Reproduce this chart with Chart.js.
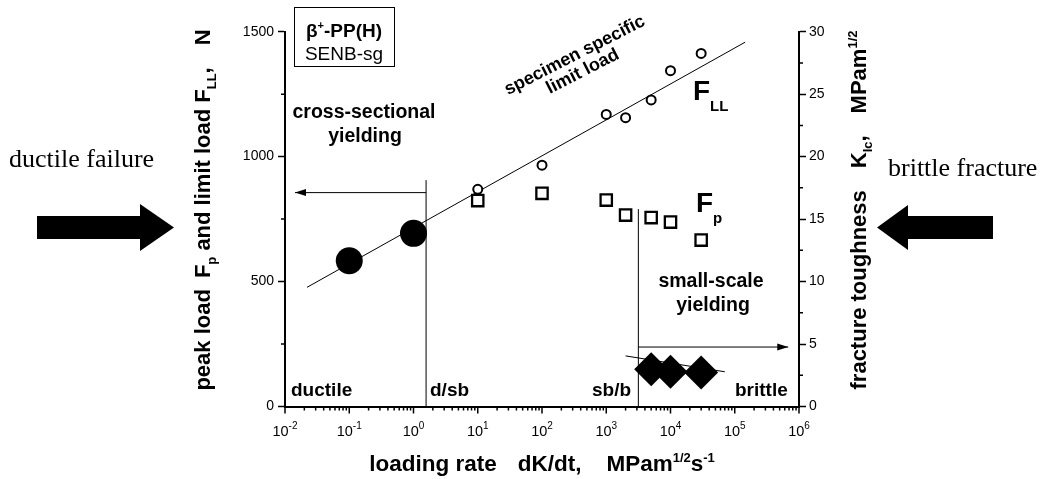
<!DOCTYPE html>
<html><head><meta charset="utf-8">
<script src="https://cdn.jsdelivr.net/npm/chart.js@4"></script>
<style>html,body{margin:0;padding:0;background:#fff;overflow:hidden}#wrap{width:1043px;height:479px}</style>
</head><body><div id="wrap"><canvas id="c" width="1043" height="479"></canvas></div>
<script>
// ---- data ----
const rates = [10, 100, 1000, 2000, 5000, 10000, 30000];          // loading rate dK/dt
const limitLoad = [869, 966, 1169, 1156, 1227, 1344, 1413];       // F_LL, N (open circles)
const peakLoad = [824, 853, 826, 766, 756, 738, 666];             // F_p, N (open squares)
const ductileRates = [0.1, 1];
const ductileLoad = [583, 693];                                   // filled circles, N
const brittleRates = [5000, 10000, 30000];
const brittleK = [2.98, 2.79, 2.72];                              // filled diamonds, MPa m^1/2
const limitFitRates = [0.022, 145000];
const limitFitLoad = [477, 1458];
const kFitRates = [2000, 70000];
const kFitValues = [4.05, 2.78];
const transitionRates = [1.57, 3160];                             // d/sb and sb/b
const transitionTop = [906, 790];
const ductileArrowRates = [1.57, 0.0143];
const ductileArrowLoad = 856;
const brittleArrowRates = [3160, 680000];
const brittleArrowLoad = 238;
const loadTicks = [0, 500, 1000, 1500];
const toughTicks = [0, 5, 10, 15, 20, 25, 30];
const rateExponents = [-2, -1, 0, 1, 2, 3, 4, 5, 6];

const SANS = 'Arial, "Liberation Sans", Helvetica, sans-serif';
const SERIF = '"Times New Roman", "Liberation Serif", serif';
function fnt(size, bold, fam) { return (bold ? 'bold ' : '') + size + 'px ' + (fam || SANS); }

// rich text: segs = [{t, s, b, dy, f, g}]
function rich(ctx, segs, x, y, angle, align) {
  ctx.save();
  ctx.translate(x, y);
  ctx.rotate(angle || 0);
  ctx.textAlign = 'left';
  ctx.textBaseline = 'alphabetic';
  ctx.fillStyle = '#000';
  let w = 0;
  const ws = segs.map(sg => { ctx.font = fnt(sg.s, sg.b, sg.f); const m = ctx.measureText(sg.t).width; w += m + (sg.g || 0); return m; });
  let cx = align === 'left' ? 0 : (align === 'right' ? -w : -w / 2);
  segs.forEach((sg, i) => { ctx.font = fnt(sg.s, sg.b, sg.f); ctx.fillText(sg.t, cx, sg.dy || 0); cx += ws[i] + (sg.g || 0); });
  ctx.restore();
}

const pts = (xs, ys) => xs.map((x, i) => ({ x: x, y: ys[i] }));
const lineDs = (data, axis) => ({ data: data, yAxisID: axis || 'y', showLine: true, borderColor: '#000', borderWidth: 1, pointRadius: 0, pointHoverRadius: 0, fill: false, order: 1 });

const decor = {
  id: 'decor',
  afterDraw(chart) {
    const ctx = chart.ctx;
    const xs = chart.scales.x, ys = chart.scales.y, y2 = chart.scales.y2;
    const L = chart.chartArea.left, R = chart.chartArea.right, B = chart.chartArea.bottom;
    ctx.save();
    ctx.strokeStyle = '#000';
    ctx.fillStyle = '#000';
    ctx.lineWidth = 1.5;
    // minor ticks on y axes
    ctx.beginPath();
    for (let i = 0; i < loadTicks.length - 1; i++) {
      const py = ys.getPixelForValue((loadTicks[i] + loadTicks[i + 1]) / 2);
      ctx.moveTo(L, py); ctx.lineTo(L - 4, py);
    }
    for (let i = 0; i < toughTicks.length - 1; i++) {
      const py = y2.getPixelForValue((toughTicks[i] + toughTicks[i + 1]) / 2);
      ctx.moveTo(R, py); ctx.lineTo(R + 4, py);
    }
    // x ticks
    rateExponents.forEach((e, k) => {
      const px = xs.getPixelForValue(Math.pow(10, e));
      ctx.moveTo(px, B); ctx.lineTo(px, B + 7);
      if (k < rateExponents.length - 1) {
        for (let m = 2; m <= 9; m++) {
          const qx = xs.getPixelForValue(m * Math.pow(10, e));
          ctx.moveTo(qx, B); ctx.lineTo(qx, B + 4);
        }
      }
    });
    ctx.stroke();
    // x tick labels 10^n
    rateExponents.forEach(e => {
      const px = xs.getPixelForValue(Math.pow(10, e));
      rich(ctx, [{ t: '10', s: 14.5 }, { t: String(e), s: 10, dy: -7 }], px, B + 29, 0, 'center');
    });
    // arrowheads
    const ay = ys.getPixelForValue(ductileArrowLoad);
    const ax = xs.getPixelForValue(ductileArrowRates[1]);
    ctx.beginPath(); ctx.moveTo(ax, ay); ctx.lineTo(ax + 11, ay - 3.5); ctx.lineTo(ax + 11, ay + 3.5); ctx.closePath(); ctx.fill();
    const by = ys.getPixelForValue(brittleArrowLoad);
    const bx = xs.getPixelForValue(brittleArrowRates[1]);
    ctx.beginPath(); ctx.moveTo(bx, by); ctx.lineTo(bx - 11, by - 3.5); ctx.lineTo(bx - 11, by + 3.5); ctx.closePath(); ctx.fill();

    // axis titles
    rich(ctx, [{ t: 'loading rate', s: 22.5, b: 1, g: 21 }, { t: 'dK/dt,', s: 22.5, b: 1, g: 25 }, { t: 'MPam', s: 22.5, b: 1 },
      { t: '1/2', s: 13, b: 1, dy: -9 }, { t: 's', s: 22.5, b: 1 }, { t: '-1', s: 13, b: 1, dy: -9 }], 542, 471, 0, 'center');
    rich(ctx, [{ t: 'peak load', s: 22, b: 1, g: 11 }, { t: 'F', s: 22, b: 1 }, { t: 'p', s: 13, b: 1, dy: 6 },
      { t: ' and limit load ', s: 22, b: 1 }, { t: 'F', s: 22, b: 1 }, { t: 'LL', s: 13, b: 1, dy: 6 }, { t: ',', s: 22, b: 1, g: 22 },
      { t: 'N', s: 22, b: 1 }], 210, 210, -Math.PI / 2, 'center');
    rich(ctx, [{ t: 'fracture toughness', s: 22, b: 1, g: 22 }, { t: 'K', s: 22, b: 1 }, { t: 'Ic', s: 13, b: 1, dy: 6 },
      { t: ',', s: 22, b: 1, g: 22 }, { t: 'MPam', s: 22, b: 1 }, { t: '1/2', s: 13, b: 1, dy: -9 }], 866, 210, -Math.PI / 2, 'center');

    // material box
    ctx.lineWidth = 1;
    ctx.strokeRect(294.5, 7.5, 100, 59);
    rich(ctx, [{ t: '\u03B2', s: 19, b: 1 }, { t: '+', s: 11, b: 1, dy: -8 }, { t: '-PP(H)', s: 19, b: 1 }], 344, 37, 0, 'center');
    rich(ctx, [{ t: 'SENB-sg', s: 19 }], 344, 60, 0, 'center');

    // region labels
    rich(ctx, [{ t: 'cross-sectional', s: 19.5, b: 1 }], 364, 118, 0, 'center');
    rich(ctx, [{ t: 'yielding', s: 19.5, b: 1 }], 365, 142, 0, 'center');
    rich(ctx, [{ t: 'small-scale', s: 19.5, b: 1 }], 711, 287, 0, 'center');
    rich(ctx, [{ t: 'yielding', s: 19.5, b: 1 }], 713, 311, 0, 'center');
    rich(ctx, [{ t: 'ductile', s: 19, b: 1 }], 291, 396, 0, 'left');
    rich(ctx, [{ t: 'd/sb', s: 19, b: 1 }], 430, 396, 0, 'left');
    rich(ctx, [{ t: 'sb/b', s: 19, b: 1 }], 592, 396, 0, 'left');
    rich(ctx, [{ t: 'brittle', s: 19, b: 1 }], 735, 396, 0, 'left');
    const ang = -27 * Math.PI / 180;
    rich(ctx, [{ t: 'specimen specific', s: 18, b: 1 }], 577, 60, ang, 'center');
    rich(ctx, [{ t: 'limit load', s: 18, b: 1 }], 585, 76, ang, 'center');
    rich(ctx, [{ t: 'F', s: 28, b: 1 }, { t: 'LL', s: 15, b: 1, dy: 11 }], 693, 100, 0, 'left');
    rich(ctx, [{ t: 'F', s: 28, b: 1 }, { t: 'p', s: 15, b: 1, dy: 11 }], 696, 212, 0, 'left');

    // side captions and block arrows
    rich(ctx, [{ t: 'ductile failure', s: 26, f: SERIF }], 9, 167, 0, 'left');
    rich(ctx, [{ t: 'brittle fracture', s: 26, f: SERIF }], 888, 176, 0, 'left');
    ctx.beginPath();
    ctx.moveTo(37, 216); ctx.lineTo(140, 216); ctx.lineTo(140, 204); ctx.lineTo(174, 227.5);
    ctx.lineTo(140, 251); ctx.lineTo(140, 239); ctx.lineTo(37, 239); ctx.closePath(); ctx.fill();
    ctx.beginPath();
    ctx.moveTo(993, 216); ctx.lineTo(908, 216); ctx.lineTo(908, 205); ctx.lineTo(877, 227.5);
    ctx.lineTo(908, 250); ctx.lineTo(908, 239); ctx.lineTo(993, 239); ctx.closePath(); ctx.fill();
    ctx.restore();
  }
};

new Chart(document.getElementById('c'), {
  type: 'scatter',
  data: {
    datasets: [
      { label: 'F_LL', data: pts(rates, limitLoad), yAxisID: 'y', pointStyle: 'circle', pointRadius: 4.5, pointBorderWidth: 2,
        pointBorderColor: '#000', pointBackgroundColor: '#fff', showLine: false, order: 0 },
      { label: 'F_p', data: pts(rates, peakLoad), yAxisID: 'y', pointStyle: 'rect', pointRadius: 8, pointBorderWidth: 2.3,
        pointBorderColor: '#000', pointBackgroundColor: '#fff', showLine: false, order: 0 },
      { label: 'ductile', data: pts(ductileRates, ductileLoad), yAxisID: 'y', pointStyle: 'circle', pointRadius: 13.5, pointBorderWidth: 0,
        pointBorderColor: '#000', pointBackgroundColor: '#000', showLine: false, order: 0 },
      { label: 'brittle', data: pts(brittleRates, brittleK), yAxisID: 'y2', pointStyle: 'rectRot', pointRadius: 17, pointBorderWidth: 0,
        pointBorderColor: '#000', pointBackgroundColor: '#000', showLine: false, order: 0 },
      lineDs(pts(limitFitRates, limitFitLoad)),
      lineDs(pts(kFitRates, kFitValues), 'y2'),
      lineDs([{ x: transitionRates[0], y: 0 }, { x: transitionRates[0], y: transitionTop[0] }]),
      lineDs([{ x: transitionRates[1], y: 0 }, { x: transitionRates[1], y: transitionTop[1] }]),
      lineDs(ductileArrowRates.map(r => ({ x: r, y: ductileArrowLoad }))),
      lineDs(brittleArrowRates.map(r => ({ x: r, y: brittleArrowLoad })))
    ]
  },
  options: {
    responsive: false,
    animation: false,
    devicePixelRatio: 1,
    events: [],
    layout: { padding: { top: 31.7, left: 0, right: 0, bottom: 0 } },
    plugins: { legend: { display: false }, tooltip: { enabled: false } },
    scales: {
      x: {
        type: 'logarithmic', position: 'bottom', min: 0.01, max: 1e6,
        ticks: { display: false }, grid: { display: false },
        border: { display: true, color: '#000', width: 2 },
        afterFit: s => { s.height = 72.5; }
      },
      y: {
        type: 'linear', position: 'left', min: 0, max: 1500,
        afterBuildTicks: s => { s.ticks = loadTicks.map(v => ({ value: v })); },
        ticks: { color: '#000', padding: 4, font: { family: SANS, size: 14 }, callback: v => String(v) },
        grid: { display: true, drawOnChartArea: false, drawTicks: true, tickLength: 7, tickColor: '#000', tickWidth: 1.5 },
        border: { display: true, color: '#000', width: 2 },
        afterFit: s => { s.width = 285; }
      },
      y2: {
        type: 'linear', position: 'right', min: 0, max: 30,
        afterBuildTicks: s => { s.ticks = toughTicks.map(v => ({ value: v })); },
        ticks: { color: '#000', padding: 3, font: { family: SANS, size: 14 }, callback: v => String(v) },
        grid: { display: true, drawOnChartArea: false, drawTicks: true, tickLength: 7, tickColor: '#000', tickWidth: 1.5 },
        border: { display: true, color: '#000', width: 2 },
        afterFit: s => { s.width = 244; }
      }
    }
  },
  plugins: [decor]
});
</script></body></html>
